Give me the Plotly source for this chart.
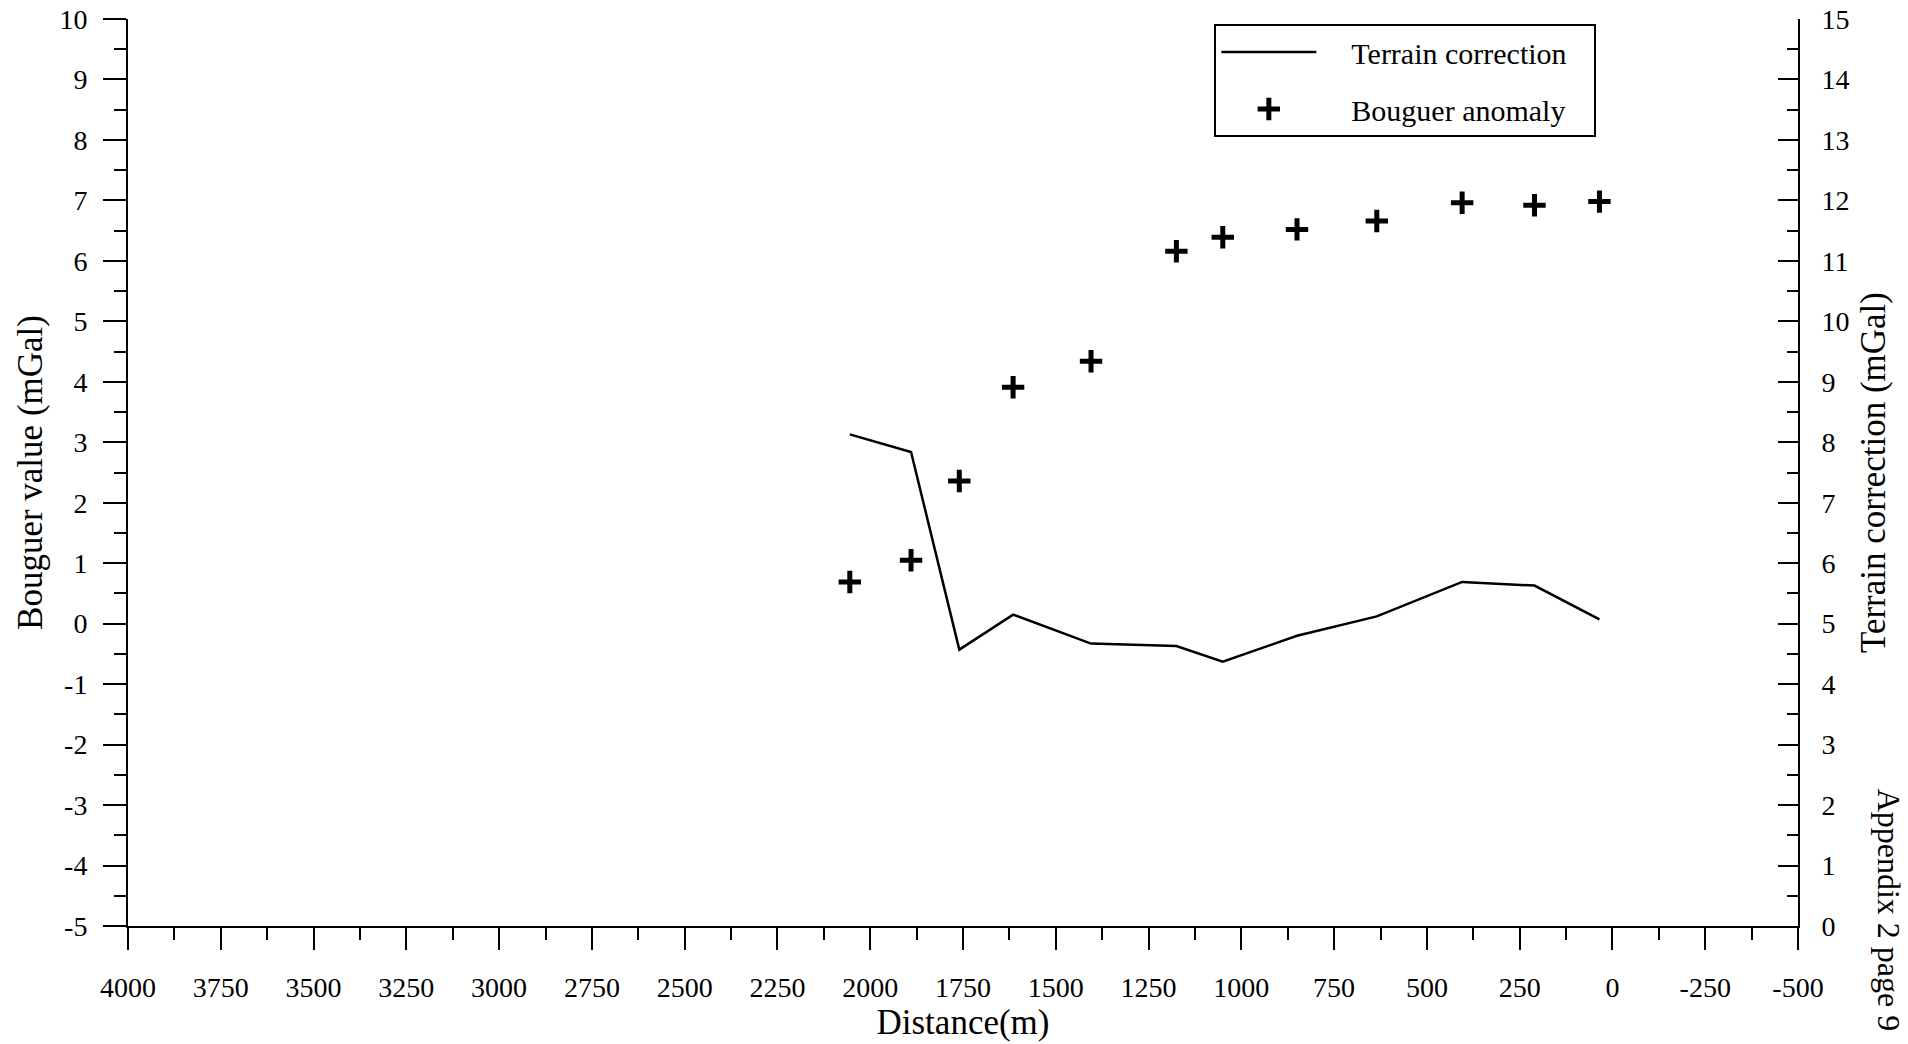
import plotly.graph_objects as go

# Survey profile: station distance along the line (m)
distance_m = [2055, 1890, 1760, 1615, 1405, 1175, 1050, 850, 635, 405, 210, 35]
# Bouguer anomaly at each station (mGal, left axis)
bouguer_mgal = [0.69, 1.05, 2.36, 3.91, 4.34, 6.16, 6.39, 6.52, 6.66, 6.96, 6.92, 6.98]
# Terrain correction at each station (mGal, right axis)
terrain_mgal = [8.13, 7.84, 4.57, 5.15, 4.67, 4.63, 4.37, 4.80, 5.12, 5.69, 5.63, 5.07]

x_tick_vals = list(range(4000, -501, -250))
x_tick_text = [str(v) for v in x_tick_vals]
y_left_vals = list(range(-5, 11))
y_left_text = [str(v) for v in y_left_vals]
y_right_vals = list(range(0, 16))
y_right_text = [str(v) for v in y_right_vals]

FONT = "Liberation Serif"
INK = "black"
PAD = "\u00a0"

fig = go.Figure()

fig.add_trace(go.Scatter(
    x=distance_m, y=terrain_mgal, yaxis="y2",
    mode="lines", name=PAD * 4 + "Terrain correction" + PAD * 3, legendgroup="tc",
    line=dict(color=INK, width=2.5),
))
fig.add_trace(go.Scatter(
    x=distance_m, y=bouguer_mgal, yaxis="y",
    mode="markers", name=PAD * 4 + "Bouguer anomaly", legendgroup="ba",
    marker=dict(symbol="cross-thin", size=16, color=INK,
                line=dict(color=INK, width=5)),
))

axis_common = dict(
    showline=True, linewidth=2, linecolor=INK,
    showgrid=False, zeroline=False, automargin=False,
    tickwidth=2, tickcolor=INK,
    tickfont=dict(family=FONT, size=28, color=INK),
)

fig.update_layout(
    width=1908, height=1044,
    margin=dict(l=128, r=110, t=19, b=118),
    paper_bgcolor="white", plot_bgcolor="white",
    font=dict(family=FONT, size=28, color=INK),
    showlegend=True,
    legend=dict(
        x=0.6505, y=0.9945, xanchor="left", yanchor="top",
        bordercolor=INK, borderwidth=2, bgcolor="white",
        font=dict(family=FONT, size=30, color=INK),
        itemwidth=95, tracegroupgap=15, traceorder="grouped",
    ),
    xaxis=dict(
        range=[4000, -500],
        tickmode="array", tickvals=x_tick_vals, ticktext=x_tick_text,
        ticks="outside", ticklen=22, ticklabelstandoff=13,
        minor=dict(tickmode="linear", tick0=0, dtick=125, ticks="outside",
                   ticklen=12, tickwidth=2, tickcolor=INK),
        title=dict(text="Distance(m)", font=dict(family=FONT, size=35, color=INK),
                   standoff=8),
        **axis_common,
    ),
    yaxis=dict(
        range=[-5, 10],
        tickmode="array", tickvals=y_left_vals, ticktext=y_left_text,
        ticks="outside", ticklen=23, ticklabelstandoff=10,
        minor=dict(tickmode="linear", tick0=0, dtick=0.5, ticks="outside",
                   ticklen=12, tickwidth=2, tickcolor=INK),
        title=dict(text="Bouguer value (mGal)", font=dict(family=FONT, size=35, color=INK),
                   standoff=6),
        **axis_common,
    ),
    yaxis2=dict(
        range=[0, 15], overlaying="y", side="right",
        tickmode="array", tickvals=y_right_vals, ticktext=y_right_text,
        ticks="inside", ticklen=20, ticklabelstandoff=16,
        minor=dict(tickmode="linear", tick0=0, dtick=0.5, ticks="inside",
                   ticklen=11, tickwidth=2, tickcolor=INK),
        title=dict(text="Terrain correction (mGal)", font=dict(family=FONT, size=35, color=INK),
                   standoff=12),
        **axis_common,
    ),
    annotations=[dict(
        text="Appendix 2 page 9", textangle=90,
        xref="paper", yref="paper", x=1.0545, y=0.018,
        xanchor="center", yanchor="middle", showarrow=False,
        font=dict(family=FONT, size=32, color=INK),
    )],
)

fig.write_html("out.html")
